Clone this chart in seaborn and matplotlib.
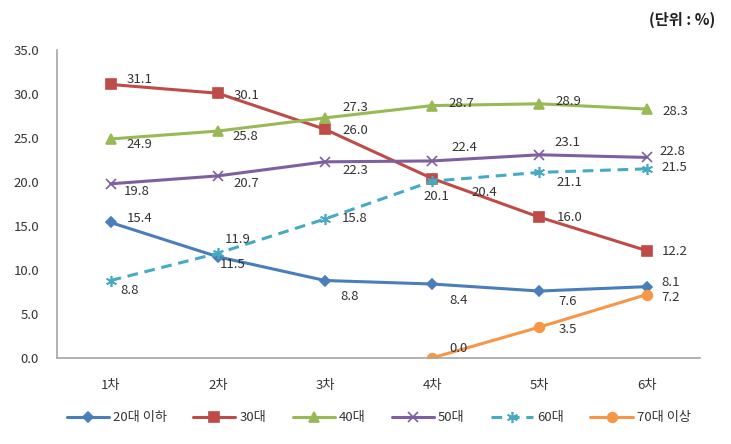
import numpy as np
import pandas as pd
import seaborn as sns
import matplotlib.pyplot as plt

# 차수별 연령대 비율 (단위: %)
rounds = ['1차', '2차', '3차', '4차', '5차', '6차']
age_groups = ['20대 이하', '30대', '40대', '50대', '60대', '70대 이상']

under20s = [15.4, 11.5, 8.8, 8.4, 7.6, 8.1]
thirties = [31.1, 30.1, 26.0, 20.4, 16.0, 12.2]
forties = [24.9, 25.8, 27.3, 28.7, 28.9, 28.3]
fifties = [19.8, 20.7, 22.3, 22.4, 23.1, 22.8]
sixties = [8.8, 11.9, 15.8, 20.1, 21.1, 21.5]
over70s = [np.nan, np.nan, np.nan, 0.0, 3.5, 7.2]

series = [under20s, thirties, forties, fifties, sixties, over70s]

sns.set_theme(style='white')
plt.rcParams['font.family'] = ['Noto Sans CJK KR', 'DejaVu Sans']

colors = ['#4A7EBB', '#BE4B48', '#98B954', '#7D60A0', '#46AAC5', '#F79646']
markers = ['D', 's', '^', 'x', (6, 2, 0), 'o']
msizes = [5, 7, 7, 7, 8, 7]
styles = ['-', '-', '-', '-', (0, (3.5, 2.2)), '-']

# label offsets in pixels (dx, dy) for each point
offsets = [
    [(29, 4), (15, -8), (25, -16), (26, -16), (28, -10), (24, 4)],
    [(29, 5), (29, -2), (30, -1), (52, -14), (30, 0), (28, -1)],
    [(29, -6), (28, -5), (30, 10), (29, 2), (29, 2), (29, -2)],
    [(26, -8), (29, -8), (30, -9), (32, 13), (28, 12), (26, 6)],
    [(19, -10), (20, 14), (30, 0), (4, -15), (30, -10), (28, 1)],
    [None, None, None, (26, 9), (28, -2), (24, -3)],
]

df = pd.DataFrame({'x': np.arange(len(rounds))})
for name, vals in zip(age_groups, series):
    df[name] = vals

fig = plt.figure(figsize=(7.31, 4.44), dpi=100)
ax = fig.add_axes([0.078, 0.194, 0.88, 0.693])

for i, name in enumerate(age_groups):
    sns.lineplot(data=df, x='x', y=name, ax=ax, color=colors[i], marker=markers[i],
                 markersize=msizes[i], markeredgecolor=colors[i], markeredgewidth=1.2,
                 linewidth=2.2, linestyle=styles[i], label=name)
    for j, v in enumerate(series[i]):
        if np.isnan(v):
            continue
        dx, dy = offsets[i][j]
        ax.annotate(f'{v:.1f}', (j, v), xytext=(dx, dy), textcoords='offset pixels',
                    ha='center', va='center', fontsize=9.5, color='#333333')

ax.set_xlim(-0.5, 5.5)
ax.set_ylim(0, 35)
ax.set_xticks(range(len(rounds)))
ax.set_xticklabels(rounds)
ax.set_yticks(np.arange(0, 35.1, 5))
ax.set_yticklabels([f'{t:.1f}' for t in np.arange(0, 35.1, 5)])
ax.tick_params(axis='both', length=0, labelsize=9.5, colors='#333333')
ax.tick_params(axis='y', pad=13)
ax.tick_params(axis='x', pad=15)
ax.set_xlabel('')
ax.set_ylabel('')
sns.despine(ax=ax)
for s in ['left', 'bottom']:
    ax.spines[s].set_color('#A6A6A6')
    ax.spines[s].set_linewidth(1.2)

ax.legend(loc='center', bbox_to_anchor=(0.5, -0.195), ncol=6, frameon=False,
          fontsize=9.5, handlelength=3.2, handletextpad=0.3, columnspacing=2.0,
          labelcolor='#333333')

fig.text(0.978, 0.955, '(단위 : %)', ha='right', va='center', fontsize=11,
         fontweight='bold', color='#222222')

fig.savefig('out.png', dpi=100)
